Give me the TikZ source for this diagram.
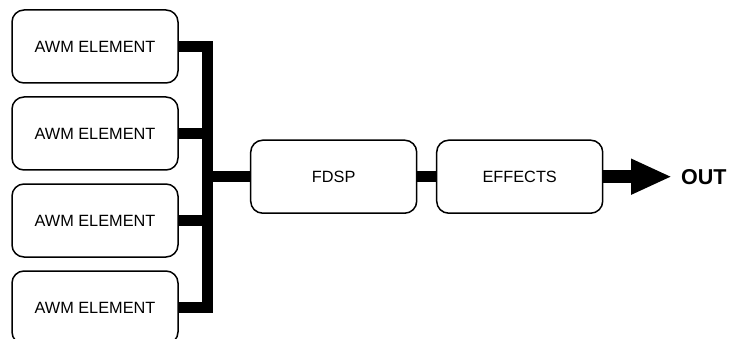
\documentclass[tikz,border=0pt]{standalone}
\usepackage{fontspec}
\setmainfont{Liberation Sans}
\usetikzlibrary{arrows.meta}
\begin{document}
\begin{tikzpicture}[x=1pt,y=-1pt,
  blk/.style={draw,line width=1.5pt,rounded corners=12pt,minimum width=166pt,minimum height=73pt,inner sep=0pt,font=\fontsize{16.3}{19}\selectfont},
  bus/.style={line width=11.5pt,line join=miter,line cap=butt}]
\useasboundingbox (0,0) rectangle (730,339);
\clip (0,0) rectangle (730,339);
\node[blk] (a1) at (95,46.5) {AWM ELEMENT};
\node[blk] (a2) at (95,133.5) {AWM ELEMENT};
\node[blk] (a3) at (95,220.5) {AWM ELEMENT};
\node[blk] (a4) at (95,307.5) {AWM ELEMENT};
\node[blk] (f) at (333.7,176.7) {FDSP};
\node[blk] (e) at (519.7,176.7) {EFFECTS};
\node[anchor=west,inner sep=0pt,font=\fontsize{21.5}{24}\selectfont\bfseries] (out) at (681,177.5) {OUT};
\coordinate (bt) at (207.5,46.5);
\coordinate (bb) at (207.5,307.5);
\draw[bus] (a1.east) -- (bt) -- (bb) -- (a4.east);
\draw[bus] (a2.east) -- (a2.east -| bt);
\draw[bus] (a3.east) -- (a3.east -| bt);
\draw[bus] (f.west -| bt) -- (f.west);
\draw[bus] (f.east) -- (e.west);
\coordinate (tip) at (672,176.7);
\draw[line width=12.5pt,-{Triangle[length=41pt,width=33pt]}] (e.east) -- (tip);
\end{tikzpicture}
\end{document}
